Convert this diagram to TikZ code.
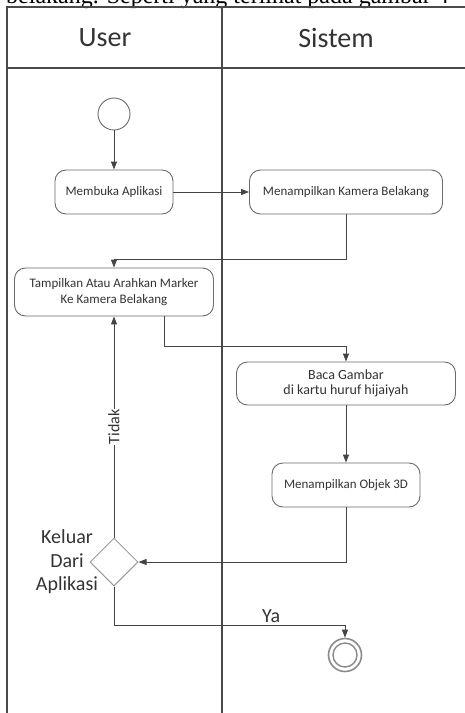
\documentclass[tikz,border=0pt]{standalone}
\usepackage{fontspec}
\setmainfont{Carlito}
\newfontfamily\seriffont{Liberation Serif}
\usetikzlibrary{shapes.geometric,arrows.meta}
\definecolor{lanec}{HTML}{4A4A4A}
\definecolor{linec}{HTML}{444444}
\definecolor{boxc}{HTML}{6A6A6A}
\definecolor{txtc}{HTML}{333333}
\definecolor{diac}{HTML}{9A9A9A}
\definecolor{endc}{HTML}{8A8A8A}
\tikzset{
  lane/.style={draw=lanec, line width=1.2pt},
  act/.style={draw=boxc, line width=0.9pt, rounded corners=11pt, fill=white,
    text=txtc, font=\fontsize{13}{16}\selectfont, align=center, inner sep=2pt},
  conn/.style={draw=linec, line width=0.9pt, -{Triangle[length=8pt,width=6pt]}},
  lbl/.style={text=txtc, inner sep=1pt},
  hdr/.style={text=txtc, font=\fontsize{28}{32}\selectfont},
  dec/.style={diamond, draw=diac, line width=1pt, minimum width=48pt, minimum height=48pt, inner sep=0pt, aspect=1},
  startnode/.style={circle, draw=boxc, line width=0.9pt, minimum size=32pt, inner sep=0pt},
  endnode/.style={circle, draw=endc, line width=1.6pt, minimum size=33pt, inner sep=0pt}
}
\begin{document}
\begin{tikzpicture}[x=1pt,y=-1pt]
\useasboundingbox (0,0) rectangle (465,713);
\clip (0,0) rectangle (465,713);
% clipped running text of the page above
\node[anchor=base west, inner sep=0pt, text=black, font=\seriffont\fontsize{24}{28}\selectfont] (runtext) at (6,3) {belakang. Seperti yang terlihat pada gambar 4};
% swimlanes
\draw[lane] (7,713) -- (7,7) -- (470,7);
\draw[lane] (7,68) -- (470,68);
\draw[lane] (222,7) -- (222,713);
\node[hdr] (huser) at (105,38) {User};
\node[hdr] (hsistem) at (336,38) {Sistem};
% nodes
\node[startnode] (start) at (114,114) {};
\node[act, minimum width=118pt, minimum height=44pt] (membuka) at (114,192) {Membuka Aplikasi};
\node[act, minimum width=193pt, minimum height=44pt] (kamera) at (346,192) {Menampilkan Kamera Belakang};
\node[act, minimum width=199pt, minimum height=48pt] (tampil) at (114,292) {Tampilkan Atau Arahkan Marker\\Ke Kamera Belakang};
\node[act, minimum width=219pt, minimum height=43pt, font=\fontsize{14}{15}\selectfont] (baca) at (346,383.5) {Baca Gambar\\di kartu huruf hijaiyah};
\node[act, minimum width=148pt, minimum height=44pt] (objek) at (346,485) {Menampilkan Objek 3D};
\node[dec] (keluar) at (114,562) {};
\node[lbl, align=center, font=\fontsize{20}{23.5}\selectfont] (keluartxt) at (67,562) {Keluar\\Dari\\Aplikasi};
\node[endnode] (end) at (345,655) {};
\node[circle, draw=endc, line width=1.4pt, minimum size=24pt, inner sep=0pt] (endin) at (end) {};
% connectors
\draw[conn] (start) -- (membuka);
\draw[conn] (membuka) -- (kamera);
\draw[conn] (kamera.south) -- ++(0,45) -| (tampil.north);
\draw[conn] ([xshift=50pt]tampil.south) -- ++(0,30) -| (baca.north);
\draw[conn] (baca) -- (objek);
\draw[conn] (objek.south) |- (keluar.east);
\draw[conn] (keluar.north) -- node[lbl, rotate=90, fill=white, font=\fontsize{16}{18}\selectfont, pos=0.5] {Tidak} (tampil.south);
\draw[conn] (keluar.south) -- ++(0,39) -| node[lbl, pos=0.34, above=1pt, font=\fontsize{20}{22}\selectfont] {Ya} (end.north);
\end{tikzpicture}
\end{document}
